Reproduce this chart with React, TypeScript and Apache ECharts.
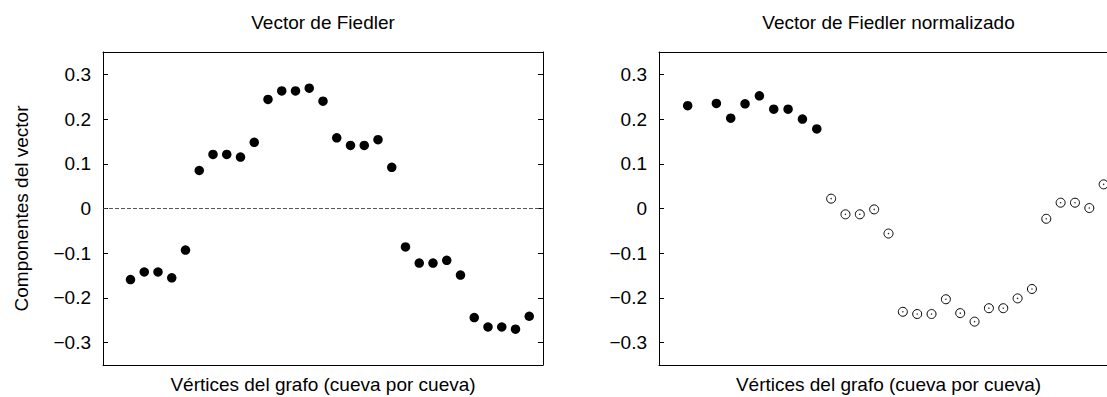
import React, { useEffect, useRef } from "react";
import * as echarts from "echarts";

// Components of the Fiedler vector, one per vertex (cave by cave)
const fiedlerValues: number[] = [
  -0.159, -0.142, -0.142, -0.155, -0.093, 0.085, 0.121, 0.121, 0.115, 0.148,
  0.244, 0.263, 0.263, 0.269, 0.24, 0.158, 0.141, 0.141, 0.154, 0.092,
  -0.086, -0.122, -0.122, -0.116, -0.149, -0.244, -0.265, -0.265, -0.27, -0.241,
];

// Normalized Fiedler vector (vertex 2 has no value)
const normalizedValues: (number | null)[] = [
  0.23, null, 0.235, 0.202, 0.234, 0.252, 0.222, 0.222, 0.2, 0.178,
  0.022, -0.013, -0.013, -0.002, -0.056, -0.231, -0.236, -0.236, -0.203, -0.234,
  -0.253, -0.223, -0.223, -0.201, -0.18, -0.023, 0.013, 0.013, 0.001, 0.054,
];
// First vertices of the normalized vector are drawn solid, the rest hollow
const solidCount = 10;

const yTicks: number[] = [-0.3, -0.2, -0.1, 0, 0.1, 0.2, 0.3];

const titles = ["Vector de Fiedler", "Vector de Fiedler normalizado"];
const xAxisLabel = "Vértices del grafo (cueva por cueva)";
const yAxisLabel = "Componentes del vector";

const FONT = "'Liberation Sans', Arial, sans-serif";
const TEXT = { fontFamily: FONT, fontSize: 19, color: "#000" };
const FRAME = { show: true, onZero: false, lineStyle: { color: "#000", width: 1 } };

const toPoints = (vals: (number | null)[], from: number, to: number) =>
  vals
    .map((v, i) => [i + 1, v] as [number, number | null])
    .slice(from, to)
    .filter((p) => p[1] !== null);

const tickLabel = (v: number) => {
  const r = Math.round(v * 10) / 10;
  if (r === 0) return "0";
  return (r < 0 ? "\u2212" : "") + Math.abs(r).toFixed(1);
};

export default function App() {
  const ref = useRef<HTMLDivElement>(null);

  useEffect(() => {
    if (!ref.current) return;
    const chart = echarts.init(ref.current, undefined, { renderer: "svg" });

    const grids = [
      { left: 103, top: 52, width: 440, height: 313 },
      { left: 659, top: 52, width: 459, height: 313 },
    ];

    const xAxes: any[] = [];
    const yAxes: any[] = [];
    grids.forEach((_, i) => {
      // bottom and top frame edges
      xAxes.push({
        type: "value",
        gridIndex: i,
        position: "bottom",
        min: -1,
        max: 31,
        axisLine: FRAME,
        axisTick: { show: false },
        axisLabel: { show: false },
        splitLine: { show: false },
        name: xAxisLabel,
        nameLocation: "middle",
        nameGap: 10,
        nameTextStyle: TEXT,
      });
      xAxes.push({
        type: "value",
        gridIndex: i,
        position: "top",
        min: -1,
        max: 31,
        axisLine: FRAME,
        axisTick: { show: false },
        axisLabel: { show: false },
        splitLine: { show: false },
      });
      // left and right frame edges with inward ticks
      yAxes.push({
        type: "value",
        gridIndex: i,
        position: "left",
        min: -0.35,
        max: 0.35,
        axisLine: FRAME,
        axisTick: {
          show: true,
          inside: true,
          length: 5,
          customValues: yTicks,
          lineStyle: { color: "#000", width: 1 },
        },
        axisLabel: {
          show: true,
          margin: 12,
          customValues: yTicks,
          formatter: tickLabel,
          ...TEXT,
        },
        splitLine: { show: false },
        ...(i === 0
          ? {
              name: yAxisLabel,
              nameLocation: "middle",
              nameRotate: 90,
              nameGap: 72,
              nameTextStyle: TEXT,
            }
          : {}),
      });
      yAxes.push({
        type: "value",
        gridIndex: i,
        position: "right",
        min: -0.35,
        max: 0.35,
        axisLine: FRAME,
        axisTick: {
          show: true,
          inside: true,
          length: 5,
          customValues: yTicks,
          lineStyle: { color: "#000", width: 1 },
        },
        axisLabel: { show: false },
        splitLine: { show: false },
      });
    });

    chart.setOption({
      animation: false,
      backgroundColor: "#fff",
      grid: grids.map((g) => ({ ...g, outerBoundsMode: "none", containLabel: false })),
      xAxis: xAxes,
      yAxis: yAxes,
      graphic: titles.map((t, i) => ({
        type: "text",
        x: grids[i].left + grids[i].width / 2,
        y: 22,
        style: {
          text: t,
          textAlign: "center",
          textVerticalAlign: "middle",
          font: `19px ${FONT}`,
          fill: "#000",
        },
      })),
      series: [
        {
          type: "scatter",
          xAxisIndex: 0,
          yAxisIndex: 0,
          symbol: "circle",
          symbolSize: 9.5,
          itemStyle: { color: "#000", opacity: 1 },
          data: toPoints(fiedlerValues, 0, fiedlerValues.length),
          markLine: {
            silent: true,
            symbol: "none",
            label: { show: false },
            lineStyle: { color: "#444", width: 0.9, type: [4, 2] },
            data: [{ yAxis: 0 }],
          },
        },
        {
          type: "scatter",
          xAxisIndex: 2,
          yAxisIndex: 2,
          symbol: "circle",
          symbolSize: 9.5,
          itemStyle: { color: "#000", opacity: 1 },
          data: toPoints(normalizedValues, 0, solidCount),
        },
        {
          type: "scatter",
          xAxisIndex: 2,
          yAxisIndex: 2,
          symbol: "circle",
          symbolSize: 9,
          itemStyle: { color: "#fff", borderColor: "#000", borderWidth: 1, opacity: 1 },
          data: toPoints(normalizedValues, solidCount, normalizedValues.length),
        },
        {
          type: "scatter",
          xAxisIndex: 2,
          yAxisIndex: 2,
          symbol: "circle",
          symbolSize: 1.4,
          itemStyle: { color: "#222", opacity: 1 },
          data: toPoints(normalizedValues, solidCount, normalizedValues.length),
        },
      ],
    });

    return () => chart.dispose();
  }, []);

  return (
    <div
      ref={ref}
      style={{ position: "fixed", left: 0, top: 0, width: 1107, height: 397 }}
    />
  );
}
